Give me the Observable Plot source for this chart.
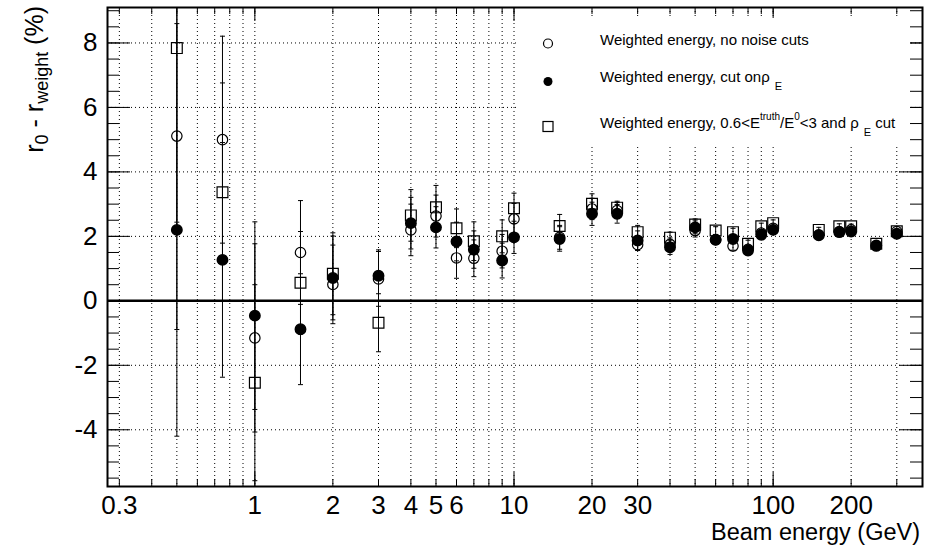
<!DOCTYPE html>
<html><head><meta charset="utf-8">
<script src="https://cdn.jsdelivr.net/npm/d3@7"></script>
<script src="https://cdn.jsdelivr.net/npm/@observablehq/plot@0.6"></script>
<style>body{margin:0;background:#fff}svg{display:block}</style>
</head><body><div id="chart"></div>
<script>
// Beam energies (GeV)
const energies = [0.5,0.75,1,1.5,2,3,4,5,6,7,9,10,15,20,25,30,40,50,60,70,80,90,100,150,180,200,250,300];
// Series 1: weighted energy, no noise cuts (open circles)
const noCutVal = [5.11,5.00,-1.15,1.50,0.51,0.68,2.20,2.63,1.33,1.32,1.54,2.54,1.97,2.85,2.80,1.74,1.75,2.18,1.90,1.70,1.60,2.10,2.25,2.05,2.15,2.20,1.70,2.15];
const noCutErr = [6.0,3.21,2.92,1.61,1.22,0.85,0.80,0.65,0.63,0.57,0.52,0.48,0.37,0.33,0.25,0.18,0.20,0.20,0.14,0.13,0.12,0.11,0.10,0.08,0.08,0.07,0.07,0.06];
// Series 2: weighted energy, cut on rho_E (filled circles)
const rhoCutVal = [2.20,1.27,-0.46,-0.88,0.71,0.78,2.41,2.28,1.84,1.59,1.25,1.97,1.92,2.70,2.70,1.87,1.66,2.28,1.89,1.92,1.56,2.05,2.20,2.03,2.13,2.15,1.72,2.08];
const rhoCutErr = [6.4,3.64,2.91,1.72,1.30,0.80,0.80,0.64,0.60,0.58,0.54,0.50,0.38,0.36,0.29,0.30,0.22,0.20,0.14,0.13,0.12,0.11,0.10,0.08,0.08,0.07,0.07,0.06];
// Series 3: weighted energy, 0.6<Etruth/E0<3 and rho_E cut (open squares)
const truthCutVal = [7.84,3.37,-2.54,0.56,0.84,-0.68,2.65,2.90,2.25,1.85,2.00,2.87,2.32,3.01,2.89,2.13,1.96,2.37,2.18,2.13,1.77,2.31,2.41,2.20,2.31,2.31,1.77,2.16];
const truthCutErr = [5.4,3.39,3.04,1.59,1.27,0.90,0.80,0.68,0.60,0.60,0.51,0.47,0.36,0.31,0.20,0.21,0.17,0.17,0.12,0.12,0.11,0.10,0.10,0.08,0.08,0.07,0.07,0.06];

// Axis ticks
const xTickLabels = [0.3,1,2,3,4,5,6,10,20,30,100,200];
const xGrid = [0.3,0.4,0.5,0.6,0.7,0.8,0.9,1,2,3,4,5,6,7,8,9,10,20,30,40,50,60,70,80,90,100,200,300];
const xMajor = [1,10,100];
const yMajor = [-4,-2,0,2,4,6,8];
const yMinor = d3.range(-5.5, 9.01, 0.5);

const W = 927, H = 555;
const mL = 107, mR = 5, mT = 7, mB = 69;
const innerW = W - mL - mR, innerH = H - mT - mB;

const rows = (vals, errs) => energies.map((e, i) => ({e, v: vals[i], lo: vals[i] - errs[i], hi: vals[i] + errs[i]}));
const s1 = rows(noCutVal, noCutErr);
const s2 = rows(rhoCutVal, rhoCutErr);
const s3 = rows(truthCutVal, truthCutErr);

const cap = {draw(ctx) { ctx.moveTo(-2.5, 0); ctx.lineTo(2.5, 0); }};

const errMarks = (s) => [
  Plot.ruleX(s, {x: "e", y1: "lo", y2: "hi", stroke: "black", strokeWidth: 1, clip: true}),
  Plot.dot(s, {x: "e", y: "lo", symbol: cap, stroke: "black", strokeWidth: 1, clip: true}),
  Plot.dot(s, {x: "e", y: "hi", symbol: cap, stroke: "black", strokeWidth: 1, clip: true})
];

const chart = Plot.plot({
  width: W, height: H,
  marginLeft: mL, marginRight: mR, marginTop: mT, marginBottom: mB,
  style: {fontFamily: "Liberation Sans, Arial, sans-serif", background: "white", color: "black"},
  x: {type: "log", domain: [0.27, 377], label: null, axis: null},
  y: {domain: [-5.76, 9.10], label: null, axis: null},
  marks: [
    Plot.ruleX(xGrid, {stroke: "black", strokeWidth: 1, strokeDasharray: "1,3"}),
    Plot.ruleY(yMajor, {stroke: "black", strokeWidth: 1, strokeDasharray: "1,3"}),
    Plot.ruleY([0], {stroke: "black", strokeWidth: 2.5}),
    ...errMarks(s1), ...errMarks(s2), ...errMarks(s3),
    Plot.dot(s1, {x: "e", y: "v", r: 5.2, stroke: "black", strokeWidth: 1.2, fill: "none", clip: true}),
    Plot.dot(s2, {x: "e", y: "v", r: 5.2, fill: "black", stroke: "black", clip: true}),
    Plot.dot(s3, {x: "e", y: "v", r: 6.1, symbol: "square", stroke: "black", strokeWidth: 1.2, fill: "none", clip: true}),
    // y ticks (left & right, inward)
    Plot.tickY(yMinor, {stroke: "black", insetRight: innerW - 12}),
    Plot.tickY(yMajor, {stroke: "black", insetRight: innerW - 23}),
    Plot.tickY(yMinor, {stroke: "black", insetLeft: innerW - 12}),
    Plot.tickY(yMajor, {stroke: "black", insetLeft: innerW - 23}),
    // x ticks (bottom & top, inward)
    Plot.tickX(xGrid, {stroke: "black", insetTop: innerH - 7}),
    Plot.tickX(xMajor, {stroke: "black", insetTop: innerH - 14}),
    Plot.tickX(xGrid, {stroke: "black", insetBottom: innerH - 7}),
    Plot.tickX(xMajor, {stroke: "black", insetBottom: innerH - 14}),
    Plot.frame({stroke: "black", strokeWidth: 2}),
    // tick labels
    Plot.text(xTickLabels, {x: d => d, frameAnchor: "bottom", lineAnchor: "top", dy: 9, fontSize: 26, text: d => String(d), fill: "black"}),
    Plot.text(yMajor, {y: d => d, frameAnchor: "left", textAnchor: "end", dx: -10, fontSize: 26, text: d => String(d), fill: "black"})
  ]
});

document.getElementById("chart").appendChild(chart);
const svg = d3.select(chart);
const font = "Liberation Sans, Arial, sans-serif";

// Axis titles
svg.append("text").attr("x", 920).attr("y", 540).attr("text-anchor", "end")
  .attr("font-family", font).attr("font-size", 23.5).attr("fill", "black").text("Beam energy (GeV)");

const yt = svg.append("text").attr("transform", "translate(43,6) rotate(-90)").attr("text-anchor", "end")
  .attr("font-family", font).attr("font-size", 25).attr("fill", "black");
yt.append("tspan").text("r");
yt.append("tspan").attr("font-size", 18).attr("dy", 5).text("0");
yt.append("tspan").attr("dy", -5).text(" - r");
yt.append("tspan").attr("font-size", 18).attr("dy", 5).text("weight");
yt.append("tspan").attr("dy", -5).text(" (%)");

// Legend (white box, no border)
const leg = svg.append("g").attr("font-family", font).attr("font-size", 15).attr("fill", "black").attr("text-anchor", "start");
leg.append("rect").attr("x", 518).attr("y", 18).attr("width", 392).attr("height", 127).attr("fill", "white");
leg.append("circle").attr("cx", 548).attr("cy", 43.5).attr("r", 4.5).attr("fill", "none").attr("stroke", "black").attr("stroke-width", 1.2);
leg.append("circle").attr("cx", 548).attr("cy", 81.5).attr("r", 4.5).attr("fill", "black");
leg.append("rect").attr("x", 543).attr("y", 121.5).attr("width", 10).attr("height", 10).attr("fill", "none").attr("stroke", "black").attr("stroke-width", 1.2);

leg.append("text").attr("x", 600).attr("y", 45).text("Weighted energy, no noise cuts");
const t2 = leg.append("text").attr("x", 600).attr("y", 82);
t2.append("tspan").text("Weighted energy, cut on\u03c1");
t2.append("tspan").attr("dx", 5).attr("dy", 8).attr("font-size", 11).text("E");
const t3 = leg.append("text").attr("x", 600).attr("y", 128);
t3.append("tspan").text("Weighted energy, 0.6<E");
t3.append("tspan").attr("dy", -8).attr("font-size", 10).text("truth");
t3.append("tspan").attr("dy", 8).text("/E");
t3.append("tspan").attr("dy", -8).attr("font-size", 10).text("0");
t3.append("tspan").attr("dy", 8).text("<3 and \u03c1");
t3.append("tspan").attr("dx", 5).attr("dy", 8).attr("font-size", 11).text("E");
t3.append("tspan").attr("dy", -8).text(" cut");
</script>
</body></html>
